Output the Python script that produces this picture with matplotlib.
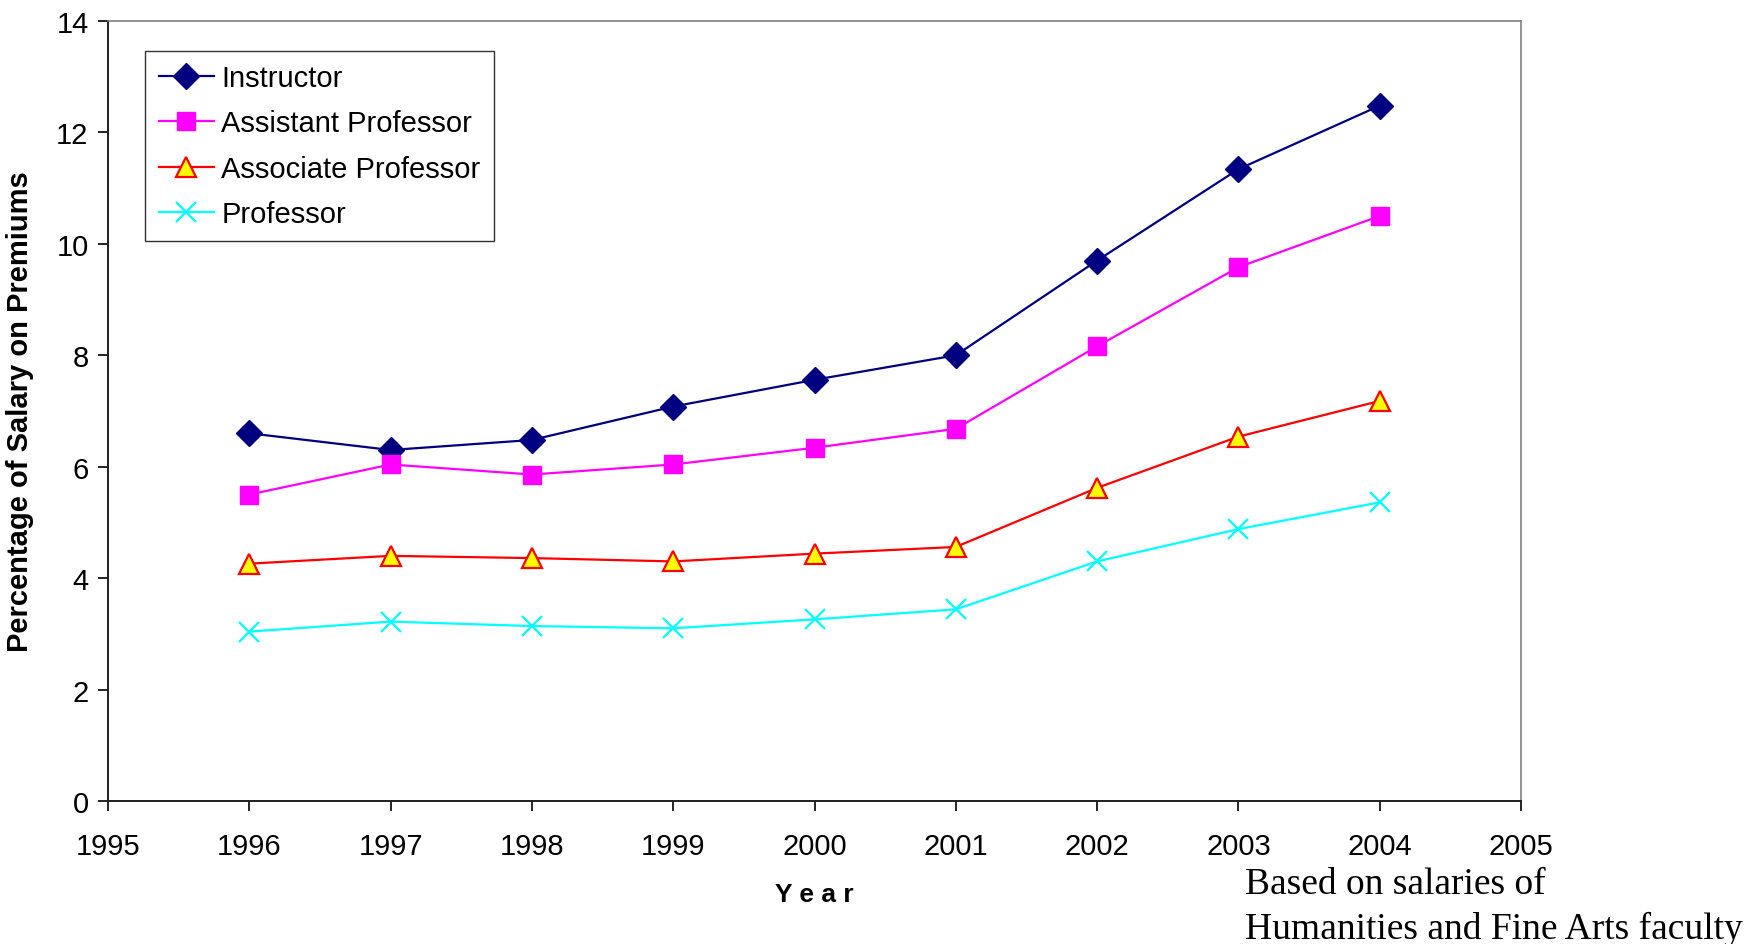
import matplotlib.pyplot as plt

years = [1996, 1997, 1998, 1999, 2000, 2001, 2002, 2003, 2004]
instructor = [6.60, 6.30, 6.48, 7.08, 7.56, 8.00, 9.70, 11.34, 12.48]
assistant = [5.50, 6.04, 5.86, 6.04, 6.34, 6.68, 8.16, 9.58, 10.50]
associate = [4.26, 4.40, 4.36, 4.30, 4.44, 4.56, 5.62, 6.54, 7.18]
professor = [3.04, 3.22, 3.14, 3.10, 3.26, 3.44, 4.30, 4.88, 5.36]

x_ticks = [1995, 1996, 1997, 1998, 1999, 2000, 2001, 2002, 2003, 2004, 2005]
y_ticks = [0, 2, 4, 6, 8, 10, 12, 14]

SANS = ['Liberation Sans', 'DejaVu Sans']

fig = plt.figure(figsize=(17.46, 9.45), dpi=100)
ax = fig.add_axes([108 / 1746, 1 - 802 / 945, (1521 - 108) / 1746, (802 - 22) / 945])

ax.plot(years, instructor, color='#000080', lw=1.6, marker='D', ms=13,
        mfc='#000080', mec='#000080', label='Instructor')
ax.plot(years, assistant, color='#ff00ff', lw=1.6, marker='s', ms=13,
        mfc='#ff00ff', mec='#ff00ff', label='Assistant Professor')
ax.plot(years, associate, color='#ff0000', lw=1.6, marker='^', ms=15,
        mfc='#ffff00', mec='#ff0000', mew=1.6, label='Associate Professor')
ax.plot(years, professor, color='#00ffff', lw=1.6, marker='x', ms=14,
        mew=1.6, label='Professor')

ax.set_xlim(1995, 2005)
ax.set_ylim(0, 14)
ax.set_xticks(x_ticks)
ax.set_yticks(y_ticks)
ax.tick_params(axis='both', direction='out', length=7, width=1.2,
               labelsize=21)
ax.tick_params(axis='x', pad=15)
ax.tick_params(axis='y', pad=7)
for lbl in ax.get_xticklabels() + ax.get_yticklabels():
    lbl.set_family(SANS)

for side in ('top', 'right'):
    ax.spines[side].set_color('#808080')
    ax.spines[side].set_linewidth(1.2)
for side in ('left', 'bottom'):
    ax.spines[side].set_color('#202020')
    ax.spines[side].set_linewidth(1.4)

ax.set_xlabel('Y e a r', family=SANS, fontsize=19, fontweight='bold', labelpad=16)
ax.set_ylabel('Percentage of Salary on Premiums', family=SANS, fontsize=21,
              fontweight='bold', labelpad=16)

leg = ax.legend(loc='upper left', bbox_to_anchor=(0.0265, 0.962),
                prop={'family': SANS, 'size': 21}, frameon=True, fancybox=False,
                edgecolor='#000000', borderpad=0.45, labelspacing=0.6,
                handlelength=1.9, handletextpad=0.25, borderaxespad=0)
leg.get_frame().set_linewidth(1.0)

fig.text(1245 / 1746, 1 - 885 / 945, 'Based on salaries of',
         family=['Liberation Serif', 'DejaVu Serif'], fontsize=27, va='center')
fig.text(1245 / 1746, 1 - 929 / 945, 'Humanities and Fine Arts faculty',
         family=['Liberation Serif', 'DejaVu Serif'], fontsize=27, va='center')

fig.savefig('out.png', dpi=100)
